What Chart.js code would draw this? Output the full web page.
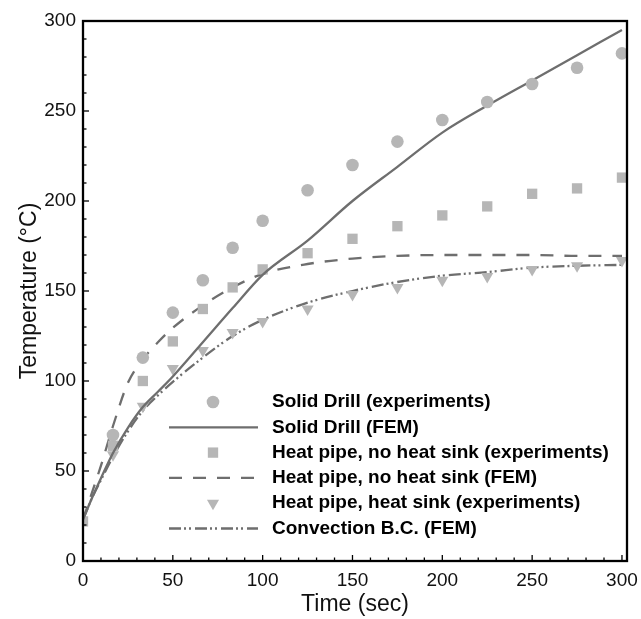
<!DOCTYPE html>
<html>
<head>
<meta charset="utf-8">
<script src="https://cdn.jsdelivr.net/npm/chart.js@4/dist/chart.umd.min.js"></script>
<style>
body { margin: 0; background: #fff; }
canvas { display: block; }
</style>
</head>
<body>
<canvas id="tempCanvas" width="641" height="619"></canvas>
<script>
// experiment times (sec)
timeExp = [0, 16.7, 33.3, 50, 66.7, 83.3, 100, 125, 150, 175, 200, 225, 250, 275, 300];
solidExp = [null, 70, 113, 138, 156, 174, 189, 206, 220, 233, 245, 255, 265, 274, 282];
noSinkExp = [22, 64, 100, 122, 140, 152, 162, 171, 179, 186, 192, 197, 204, 207, 213];
sinkExp = [null, 59, 86, 107, 117, 127, 133, 140, 148, 152, 156, 158, 162, 164, 167];

// FEM curves
timeFem = [0, 5, 10, 16.7, 25, 33.3, 41.7, 50, 66.7, 83.3, 100, 125, 150, 175, 200, 225, 250, 275, 300];
solidFem = [23, 35, 46, 60, 74, 85.5, 94, 102.5, 121.5, 140.5, 159, 178, 200, 219, 238, 253, 267, 281, 295];
noSinkFem = [23, 38, 53, 75, 99, 112, 121.5, 129.5, 142, 152, 159.5, 165, 168, 169.5, 170, 170, 170, 169.5, 169.5];
convFem = [23, 35, 45, 58, 72, 83.5, 92, 99.5, 113, 125, 134, 143.5, 150, 155, 158.5, 160.5, 163, 164, 164.5];

xTicks = [0, 50, 100, 150, 200, 250, 300];
yTicks = [0, 50, 100, 150, 200, 250, 300];

const markColor = '#b6b6b6';
const lineColor = '#6e6e6e';

function pts(xs, ys) {
    const out = [];
    for (let i = 0; i < xs.length; i++) {
        if (ys[i] !== null) out.push({x: xs[i], y: ys[i]});
    }
    return out;
}

function markerSet(label, xs, ys, style, radius, rot) {
    return {
        label: label,
        data: pts(xs, ys),
        showLine: false,
        pointStyle: style,
        pointRadius: radius,
        pointRotation: rot,
        pointBackgroundColor: markColor,
        pointBorderColor: markColor,
        pointBorderWidth: 0,
        backgroundColor: markColor,
        borderColor: markColor
    };
}

function lineSet(label, xs, ys, dash) {
    return {
        label: label,
        data: pts(xs, ys),
        showLine: true,
        borderColor: lineColor,
        backgroundColor: lineColor,
        borderWidth: 2.3,
        borderDash: dash,
        pointRadius: 0,
        cubicInterpolationMode: 'monotone',
        fill: false
    };
}

// box, inward ticks and in-plot legend
const framePlugin = {
    id: 'frame',
    afterDatasetsDraw(chart) {
        const ctx = chart.ctx;
        const a = chart.chartArea;
        const xs = chart.scales.x;
        const ys = chart.scales.y;
        ctx.save();
        ctx.strokeStyle = '#000';
        ctx.lineWidth = 1.3;
        for (let v = 0; v <= 300; v += 10) {
            const len = v % 50 == 0 ? 6 : 3.5;
            const px = xs.getPixelForValue(v);
            ctx.beginPath();
            ctx.moveTo(px, a.bottom);
            ctx.lineTo(px, a.bottom - len);
            ctx.stroke();
            const py = ys.getPixelForValue(v);
            ctx.beginPath();
            ctx.moveTo(a.left, py);
            ctx.lineTo(a.left + len, py);
            ctx.stroke();
        }
        ctx.lineWidth = 2.3;
        ctx.strokeRect(a.left, a.top, a.right - a.left, a.bottom - a.top);

        // legend
        const symX = a.left + 130;
        const lineX0 = a.left + 86;
        const lineX1 = a.left + 175;
        const textX = a.left + 189;
        let rowY = a.bottom - 159;
        ctx.font = 'bold 19px "Liberation Sans", Arial, sans-serif';
        ctx.textBaseline = 'middle';
        ctx.textAlign = 'left';
        for (const ds of chart.data.datasets) {
            if (ds.showLine) {
                ctx.strokeStyle = ds.borderColor;
                ctx.lineWidth = ds.borderWidth;
                ctx.setLineDash(ds.borderDash || []);
                ctx.beginPath();
                ctx.moveTo(lineX0, rowY);
                ctx.lineTo(lineX1, rowY);
                ctx.stroke();
                ctx.setLineDash([]);
            } else {
                ctx.fillStyle = ds.pointBackgroundColor;
                ctx.strokeStyle = ds.pointBorderColor;
                Chart.helpers.drawPoint(ctx, {
                    pointStyle: ds.pointStyle,
                    rotation: ds.pointRotation,
                    radius: ds.pointRadius,
                    borderWidth: 0
                }, symX, rowY);
            }
            ctx.fillStyle = '#000';
            ctx.fillText(ds.label, textX, rowY);
            rowY += 25.3;
        }
        ctx.restore();
    }
};

const tickFont = {family: '"Liberation Sans", Arial, sans-serif', size: 19};
const titleFont = {family: '"Liberation Sans", Arial, sans-serif', size: 23};

const ctx = document.getElementById('tempCanvas').getContext('2d');
const tempGraph = new Chart(ctx, {
    type: 'scatter',
    data: {
        datasets: [
            markerSet('Solid Drill (experiments)', timeExp, solidExp, 'circle', 6.3, 0),
            lineSet('Solid Drill (FEM)', timeFem, solidFem, []),
            markerSet('Heat pipe, no heat sink (experiments)', timeExp, noSinkExp, 'rect', 7.3, 0),
            lineSet('Heat pipe, no heat sink (FEM)', timeFem, noSinkFem, [13, 11]),
            markerSet('Heat pipe, heat sink (experiments)', timeExp, sinkExp, 'triangle', 7, 180),
            lineSet('Convection B.C. (FEM)', timeFem, convFem, [12, 3, 2, 3, 2, 4])
        ]
    },
    options: {
        responsive: false,
        animation: false,
        devicePixelRatio: 1,
        layout: {padding: {top: 21, right: 14, left: 0, bottom: 0}},
        plugins: {legend: {display: false}, tooltip: {enabled: false}},
        scales: {
            x: {
                type: 'linear',
                min: 0,
                max: 302.8,
                afterBuildTicks: (s) => { s.ticks = xTicks.map(v => ({value: v})); },
                afterFit: (s) => { s.height = 58; s.paddingLeft = 0; s.paddingRight = 0; },
                ticks: {font: tickFont, color: '#111', padding: 8},
                grid: {display: false, drawTicks: false},
                border: {display: false},
                title: {display: true, text: 'Time (sec)', font: titleFont, color: '#111', padding: {top: 0, bottom: 1}}
            },
            y: {
                type: 'linear',
                min: 0,
                max: 300,
                afterBuildTicks: (s) => { s.ticks = yTicks.map(v => ({value: v})); },
                afterFit: (s) => { s.width = 83; s.paddingTop = 0; s.paddingBottom = 0; },
                ticks: {font: tickFont, color: '#111', padding: 7},
                grid: {display: false, drawTicks: false},
                border: {display: false},
                title: {display: true, text: 'Temperature (°C)', font: titleFont, color: '#111', padding: {top: 16, bottom: 0}}
            }
        }
    },
    plugins: [framePlugin]
});
</script>
</body>
</html>
